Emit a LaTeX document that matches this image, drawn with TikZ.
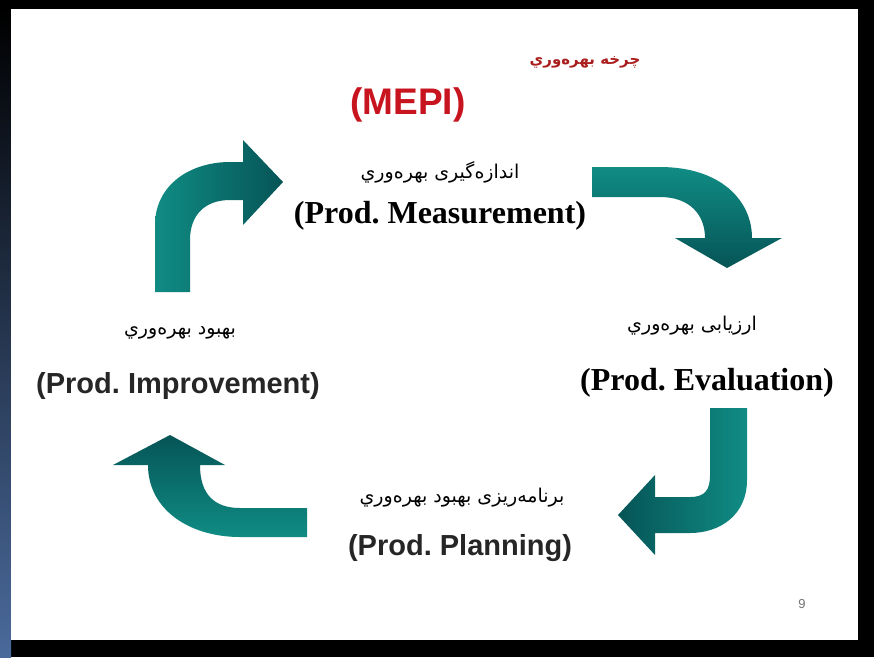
\documentclass[tikz,border=0pt]{standalone}
\usepackage{fontspec}
\setmainfont{Liberation Serif}
\setsansfont{Liberation Sans}
\newfontfamily\kurd[Script=Arabic]{DejaVu Sans}
\TeXXeTstate=1
\frenchspacing
\definecolor{tealA}{RGB}{16,140,132}
\definecolor{tealB}{RGB}{6,84,86}
\definecolor{titlered}{RGB}{170,30,30}
\definecolor{mepired}{RGB}{200,20,30}
\definecolor{sideblue}{RGB}{74,106,156}
\begin{document}
\begin{tikzpicture}[x=1pt,y=-1pt,
  kurdlabel/.style={font=\kurd\fontsize{19}{22}\selectfont, text=black, inner sep=0pt},
  serifbig/.style={font=\rmfamily\bfseries\fontsize{32}{36}\selectfont, inner sep=0pt},
  sansbig/.style={font=\sffamily\bfseries\fontsize{29}{33}\selectfont, text=black!85, inner sep=0pt},
  arrowshape/.style={draw=none}]
\useasboundingbox (0,0) rectangle (874,657);
% frame
\fill[black] (0,0) rectangle (874,657);
\shade[top color=black, bottom color=sideblue] (0,9) rectangle (11,657);
\fill[white] (11,9) rectangle (858,640);

% titles
\node[font=\kurd\bfseries\fontsize{15}{18}\selectfont, text=titlered, inner sep=0pt] (title) at (585,62) {\beginR چرخه بهره‌وري\endR};
\node[font=\sffamily\bfseries\fontsize{37}{42}\selectfont, text=mepired, inner sep=0pt] (mepi) at (408,105) {(MEPI)};

% measurement
\node[kurdlabel] (measK) at (440,172) {\beginR اندازه‌گیری بهره‌وري\endR};
\node[serifbig] (meas) at (440,216) {(Prod. Measurement)};

% evaluation
\node[kurdlabel] (evalK) at (692,326) {\beginR ارزیابی بهره‌وري\endR};
\node[serifbig] (eval) at (707,383) {(Prod. Evaluation)};

% planning
\node[kurdlabel] (planK) at (462,498) {\beginR برنامه‌ریزی بهبود بهره‌وري\endR};
\node[sansbig] (plan) at (460,548) {(Prod. Planning)};

% improvement
\node[kurdlabel] (impK) at (180,333) {\beginR بهبود بهره‌وري\endR};
\node[sansbig] (imp) at (178,386) {(Prod. Improvement)};

% page number
\node[font=\sffamily\fontsize{13}{15}\selectfont, text=black!55, inner sep=0pt] (pg) at (802,604) {9};

% arrow top-left (up then right)
\shade[arrowshape, left color=tealA, right color=tealB]
  (155,292) -- (155,225) .. controls (155,185) and (190,162) .. (230,162)
  -- (243,162) -- (243,140) -- (283,182) -- (243,225) -- (243,200) -- (230,200)
  .. controls (205,200) and (190,215) .. (190,240) -- (190,292) -- cycle;

% arrow top-right (right then down)
\shade[arrowshape, top color=tealA, bottom color=tealB]
  (592,167) -- (660,167) .. controls (720,167) and (752,200) .. (752,238)
  -- (782,238) -- (727,268) -- (675,238) -- (705,238)
  .. controls (705,215) and (690,197) .. (660,197) -- (592,197) -- cycle;

% arrow bottom-right (down then left)
\shade[arrowshape, left color=tealB, right color=tealA]
  (710,408) -- (747,408) -- (747,480) .. controls (747,515) and (720,533) .. (690,533)
  -- (655,533) -- (655,555) -- (618,515) -- (655,475) -- (655,497) -- (690,497)
  .. controls (705,497) and (710,490) .. (710,475) -- cycle;

% arrow bottom-left (left then up)
\shade[arrowshape, top color=tealB, bottom color=tealA]
  (307,508) -- (240,508) .. controls (215,508) and (200,495) .. (200,465)
  -- (225,465) -- (170,435) -- (113,465) -- (148,465)
  .. controls (148,510) and (190,537) .. (240,537) -- (307,537) -- cycle;
\end{tikzpicture}
\end{document}
